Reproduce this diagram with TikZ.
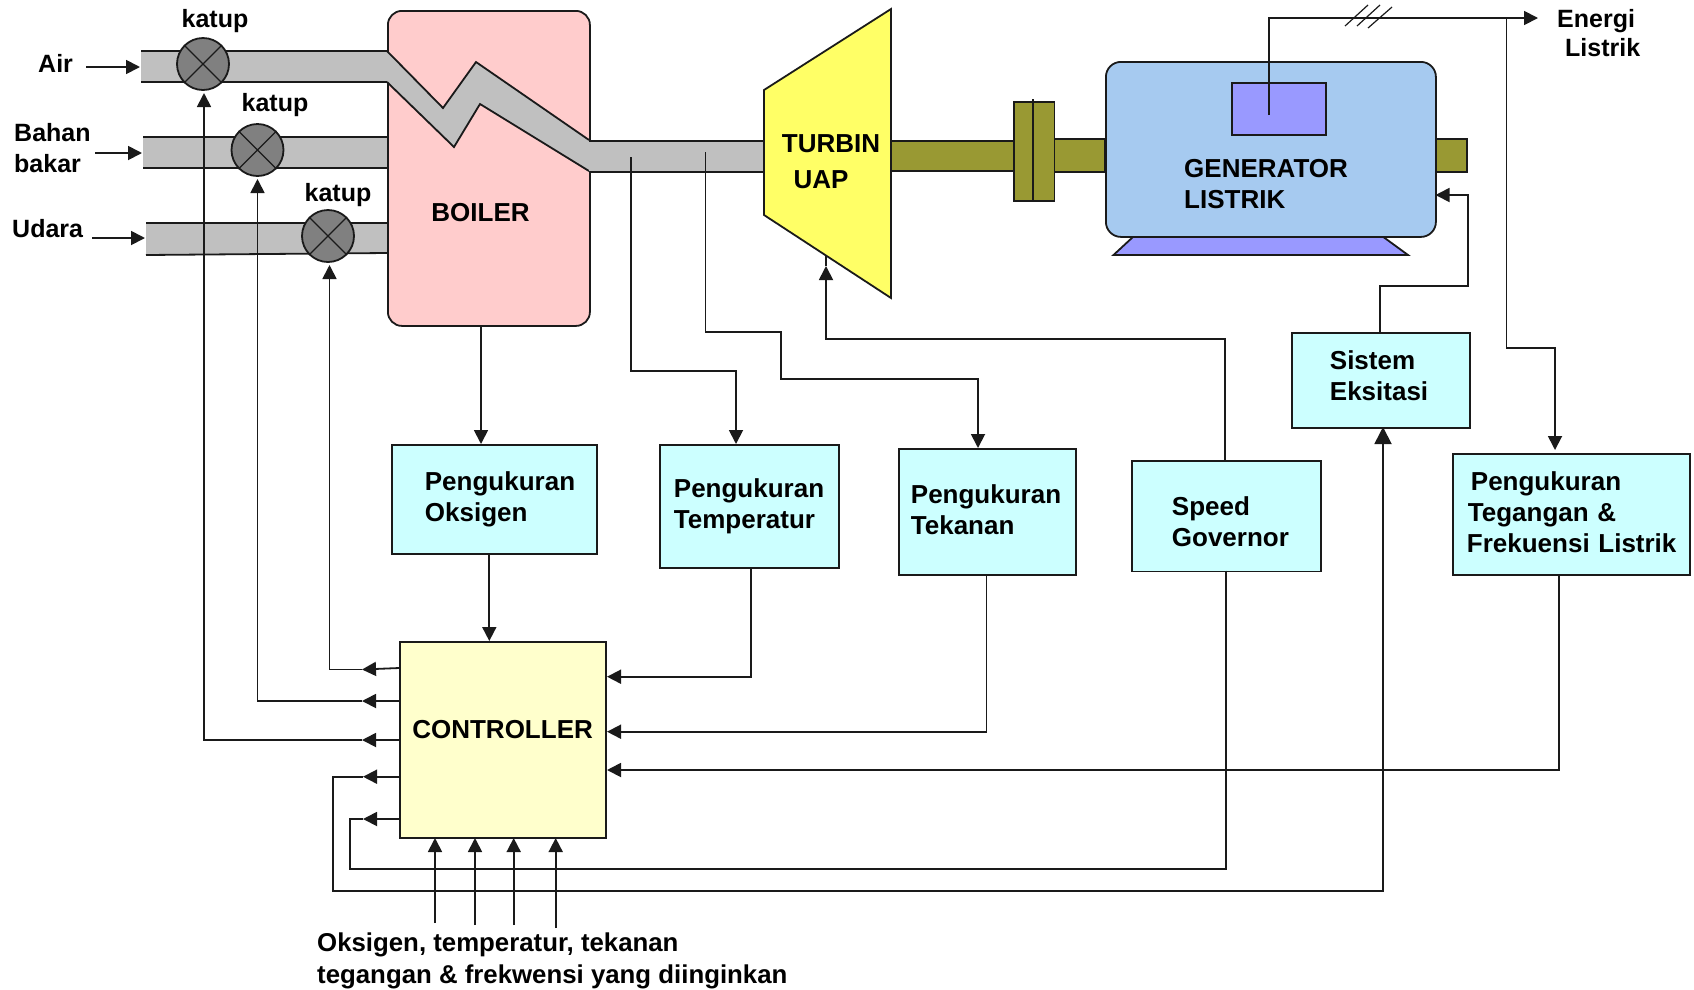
\documentclass[tikz,border=0pt]{standalone}
\usepackage{fontspec}
\setmainfont{Liberation Sans}
\usetikzlibrary{arrows.meta,calc}
\definecolor{pipeC}{HTML}{C0C0C0}
\definecolor{oliveC}{HTML}{999933}
\definecolor{boilC}{HTML}{FFCCCC}
\definecolor{turbC}{HTML}{FFFF66}
\definecolor{genC}{HTML}{A6CAF0}
\definecolor{statC}{HTML}{9999FF}
\definecolor{cyanC}{HTML}{CCFFFF}
\definecolor{ctlC}{HTML}{FFFFCC}
\definecolor{lineC}{HTML}{1A1A1A}
\tikzset{
 base/.style={line width=1.8pt,draw=lineC},
 conn/.style={base},
 arr/.style={base,-{Triangle[length=14pt,width=14pt]}},
 bigarr/.style={base,-{Triangle[length=17pt,width=17pt]}},
 txt/.style={font=\fontsize{26}{31}\selectfont\bfseries,text=black,inner sep=0pt,align=left},
 small/.style={font=\fontsize{25}{31}\selectfont\bfseries,text=black,inner sep=0pt},
 mbox/.style n args={3}{base,fill=cyanC,anchor=north west,minimum width=#1pt,minimum height=#2pt,
   inner ysep=0pt,inner xsep=#3pt,text width=#1pt-2*#3pt,align=left,font=\fontsize{26}{31}\selectfont\bfseries},
 valve/.style={base,circle,fill=gray,minimum size=52pt,inner sep=0pt},
 pipefill/.style={fill=pipeC,draw=none},
 oliverect/.style={fill=oliveC,draw=lineC,line width=1.8pt},
}
\begin{document}
\begin{tikzpicture}[x=1pt,y=-1pt]
\useasboundingbox (0,0) rectangle (1694,989);
% boiler
\node[base,fill=boilC,rounded corners=14pt,anchor=north west,minimum width=202pt,minimum height=315pt,inner sep=0pt] (boiler) at (387,10) {};
\node[txt] (boilerT) at (480.5,213) {BOILER};
% inlet pipes
\fill[pipefill] (141,51) rectangle (387,82);
\draw[conn] (141,51) -- (387,51) (141,82) -- (387,82);
\fill[pipefill] (143,137) rectangle (387,168);
\draw[conn] (143,137) -- (387,137) (143,168) -- (387,168);
\fill[pipefill] (146,223) rectangle (387,254);
\draw[conn] (146,223) -- (387,223) (146,255) -- (387,253);
% zigzag and outlet
\fill[pipefill] (387,51) -- (443,108) -- (476,62) -- (589,140) -- (589,172) -- (480,104) -- (454,147) -- (387,82) -- cycle;
\draw[conn] (387,51) -- (443,108) -- (476,62) -- (589,140);
\draw[conn] (387,82) -- (454,147) -- (480,104) -- (589,171);
\fill[pipefill] (589,141) rectangle (765,172);
\draw[conn] (589,141) -- (765,141) (589,172) -- (765,172);
% turbine
\draw[base,fill=turbC] (764,90) -- (891,9) -- (891,298) -- (764,215) -- cycle;
\coordinate (turbEdge) at (826,256);
\node[txt] (turbT) at (831,144) {TURBIN};
\node[txt] (uapT) at (821,180) {UAP};
% shafts
\draw[oliverect] (891,141) rectangle (1014,171);
\draw[oliverect] (1054,139) rectangle (1105,172);
\draw[oliverect] (1014,102) rectangle (1054.5,201);
\draw[conn] (1033,99) -- (1033,201);
\draw[oliverect] (1434,139) rectangle (1467,172);
% generator
\draw[base,fill=statC] (1134,236) -- (1382,236) -- (1408,255) -- (1113.5,255) -- cycle;
\node[base,fill=genC,rounded corners=15pt,anchor=north west,minimum width=330pt,minimum height=175pt,inner sep=0pt] (gen) at (1105,61) {};
\node[base,fill=statC,anchor=north west,minimum width=94pt,minimum height=52pt,inner sep=0pt] (stator) at (1231,82) {};
\node[txt,anchor=west] (genT) at (1184,169) {GENERATOR};
\node[txt,anchor=west] (listT) at (1184,200) {LISTRIK};
% output line
\coordinate (statOut) at (1269,115);
\coordinate (outCorner) at (1269,18);
\coordinate (elecTip) at (1538,18);
\coordinate (elecTap) at (1506.5,18);
\draw[arr] (statOut) -- (outCorner) -- (elecTip);
\coordinate (s1a) at (1345,26); \coordinate (s1b) at (1368,5);
\coordinate (s2a) at (1357,26); \coordinate (s2b) at (1380,5);
\coordinate (s3a) at (1368,28); \coordinate (s3b) at (1392,7);
\draw[conn,line width=1.2pt] (s1a) -- (s1b) (s2a) -- (s2b) (s3a) -- (s3b);
\node[small,anchor=west] (enT) at (1557,21) {Energi};
\node[small,anchor=west] (liT) at (1565,48) {Listrik};
% measurement boxes
\node[mbox={205.4}{109}{33}] (oks) at (391,444) {Pengukuran\\Oksigen\rule[-1pt]{0pt}{0pt}};
\node[mbox={179.4}{123}{14}] (tmp) at (659,444) {Pengukuran\\Temperatur};
\node[mbox={177}{126}{12}] (tek) at (898,448) {Pengukuran\\Tekanan\rule[-5pt]{0pt}{0pt}};
\node[mbox={189}{110.5}{40}] (gov) at (1131,460) {\rule{0pt}{30pt}Speed\\Governor};
\node[mbox={178}{95}{38}] (eks) at (1291,332) {Sistem\\Eksitasi\rule[-9pt]{0pt}{0pt}};
\node[mbox={237}{121}{14}] (teg) at (1452,453) {\hspace*{4pt}Pengukuran\\\hspace*{1pt}Tegangan \&\\\mbox{Frekuensi Listrik}\rule[-5pt]{0pt}{0pt}};
% controller
\node[base,fill=ctlC,anchor=north west,minimum width=205.7pt,minimum height=195.7pt,inner sep=0pt] (ctl) at (399.3,641) {};
\node[txt] (ctlT) at (502.6,730) {CONTROLLER};
% valve controls
\coordinate (v1in) at (204,93); \coordinate (v2in) at (257.5,179); \coordinate (v3in) at (329.5,265);
\coordinate (co1) at (399.3,668); \coordinate (co1t) at (362,669.5);
\coordinate (co2) at (399.3,701); \coordinate (co2t) at (362,701);
\coordinate (co3) at (399.3,740); \coordinate (co3t) at (362,740);
\draw[arr] (co1) -- (co1t);
\draw[arr] (co2) -- (co2t);
\draw[arr] (co3) -- (co3t);
\draw[arr] (co1t) -| (v3in);
\draw[arr] (co2t) -| (v2in);
\draw[arr] (co3t) -| (v1in);
% valves
\node[valve] (v1) at (203,64) {};
\node[valve] (v2) at (257.5,150) {};
\node[valve] (v3) at (328,236) {};
\foreach \v in {v1,v2,v3}{
 \draw[conn,line width=1.2pt] (\v.45) -- (\v.225) (\v.135) -- (\v.315);
}
\node[small] (k1) at (215,21) {katup};
\node[small] (k2) at (275,105) {katup};
\node[small] (k3) at (338,195) {katup};
% inputs
\node[small,anchor=west] (airT) at (38,63) {Air};
\node[small,anchor=west] (bahT) at (14,133) {Bahan};
\node[small,anchor=west] (bakT) at (14,164) {bakar};
\node[small,anchor=west] (udT) at (12,229) {Udara};
\coordinate (airS) at (86,67); \coordinate (airE) at (140,67);
\coordinate (bahS) at (95,153); \coordinate (bahE) at (142,153);
\coordinate (udS) at (92,238); \coordinate (udE) at (145,238);
\draw[arr] (airS) -- (airE);
\draw[arr] (bahS) -- (bahE);
\draw[arr] (udS) -- (udE);
% sensors
\coordinate (boilOut) at (481,325); \coordinate (oksIn) at (481,444);
\draw[arr] (boilOut) -- (oksIn);
\coordinate (tap1) at (631,157); \coordinate (tap1a) at (631,371); \coordinate (tmpIn) at (736,444);
\draw[arr] (tap1) -- (tap1a) -| (tmpIn);
\coordinate (tap2) at (705.5,152); \coordinate (tap2a) at (781,332); \coordinate (tap2b) at (781,379); \coordinate (tekIn) at (978,448);
\draw[arr] (tap2) |- (tap2a) -- (tap2b) -| (tekIn);
\coordinate (eleA) at (1506.5,348); \coordinate (tegIn) at (1555,450);
\draw[arr] (elecTap) -- (eleA) -| (tegIn);
% turbine governor
\coordinate (govOut) at (1225,460); \coordinate (turbTip) at (826,266);
\draw[arr] (govOut) |- (826,339) -- (turbTip);
\draw[conn] (turbTip) -- (turbEdge);
% excitation
\coordinate (eksOut) at (1380,332); \coordinate (eksA) at (1468,286); \coordinate (genIn) at (1435.5,195);
\draw[arr] (eksOut) |- (eksA) |- (genIn);
% measurement to controller
\coordinate (oksOut) at (489.3,553); \coordinate (ctlTop) at (489.3,641);
\draw[arr] (oksOut) -- (ctlTop);
\coordinate (tmpOut) at (750.7,567); \coordinate (ctlR1) at (607,676.7);
\draw[arr] (tmpOut) |- (ctlR1);
\coordinate (tekOut) at (986.5,574); \coordinate (ctlR2) at (607,731.7);
\draw[arr] (tekOut) |- (ctlR2);
\coordinate (tegOut) at (1559,574); \coordinate (ctlR3) at (607,770);
\draw[arr] (tegOut) |- (ctlR3);
% lower feedback
\coordinate (c4) at (399.3,776.7); \coordinate (c4t) at (363,776.7);
\draw[arr] (c4) -- (c4t);
\coordinate (eksIn) at (1383,427);
\draw[bigarr] (c4t) -- (332.7,776.7) -- (332.7,891) -| (eksIn);
\coordinate (c5) at (399.3,819); \coordinate (c5t) at (363,819);
\coordinate (govIn) at (1226,570.5);
\draw[conn] (govIn) |- (350,869.3) |- (c5t);
\draw[arr] (c5) -- (c5t);
% setpoints
\foreach \x/\y/\n in {435/923/a,475/925/b,513.7/925/c,555.7/928/d}{
 \coordinate (sp\n) at (\x,\y);
 \draw[arr] (sp\n) -- (\x,838);
}
\node[txt,anchor=west,font=\fontsize{25.8}{31}\selectfont\bfseries] (setT) at (317,945) {Oksigen, temperatur, tekanan};
\node[txt,anchor=west,font=\fontsize{25.8}{31}\selectfont\bfseries] (setU) at (317,977) {tegangan \& frekwensi yang diinginkan};
\end{tikzpicture}
\end{document}
